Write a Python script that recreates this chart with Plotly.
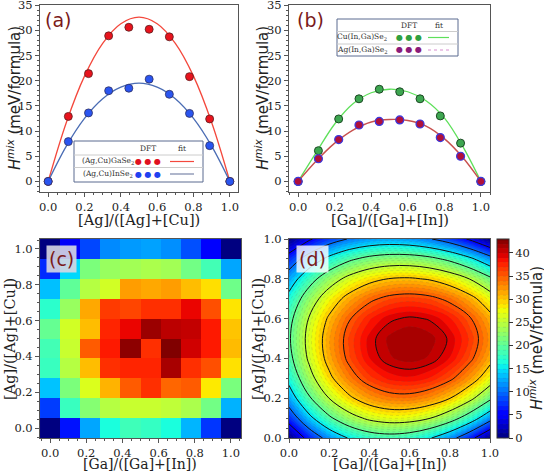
import plotly.graph_objects as go

# ---------------- data ----------------
comp9 = [0.0, 0.111, 0.222, 0.333, 0.444, 0.556, 0.667, 0.778, 0.889, 1.0]
fit_x = [0.0, 0.1, 0.2, 0.3, 0.4, 0.5, 0.6, 0.7, 0.8, 0.9, 1.0]

# (a) [Ag]/([Ag]+[Cu])
agcu_gase2_dft = [0, 12.9, 21.4, 28.9, 30.6, 30.2, 28.7, 20.8, 12.4, 0]
agcu_inse2_dft = [0, 7.9, 13.6, 18.0, 18.5, 20.3, 17.3, 13.5, 7.1, 0]
agcu_gase2_fit = [0, 11.7, 20.9, 27.4, 31.3, 32.6, 31.3, 27.4, 20.9, 11.7, 0]
agcu_inse2_fit = [0, 7.0, 12.5, 16.4, 18.7, 19.5, 18.7, 16.4, 12.5, 7.0, 0]

# (b) [Ga]/([Ga]+[In])
cu_inga_dft = [0, 6.1, 12.4, 16.4, 18.3, 17.8, 16.4, 13.0, 7.6, 0]
ag_inga_dft = [0, 4.5, 8.3, 11.2, 11.9, 12.2, 11.4, 8.7, 5.0, 0]
cu_inga_fit = [0, 5.8, 11.4, 15.4, 17.6, 18.3, 17.8, 16.0, 12.6, 7.0, 0]
ag_inga_fit = [0, 4.1, 7.6, 10.2, 11.8, 12.3, 12.1, 11.0, 8.5, 4.8, 0]

# (c) DFT mixing enthalpy map, rows = [Ag]/([Ag]+[Cu]) ascending, cols = [Ga]/([Ga]+[In]) ascending
dft_map = [
    [0, 6.1, 12.4, 16.4, 18.3, 17.8, 16.4, 13.0, 7.6, 0],
    [7.9, 18.0, 22.0, 24.5, 25.5, 25.5, 25.0, 24.0, 21.0, 12.9],
    [13.6, 21.5, 26.5, 31.0, 35.0, 37.0, 34.5, 35.0, 28.5, 21.4],
    [18.0, 24.5, 30.5, 37.0, 37.5, 37.5, 41.5, 37.0, 35.5, 28.9],
    [18.5, 25.5, 35.0, 38.0, 42.5, 37.0, 43.0, 40.0, 38.0, 30.6],
    [20.3, 26.0, 30.5, 37.5, 39.0, 42.0, 40.8, 40.5, 38.0, 30.2],
    [17.3, 23.0, 31.5, 36.5, 36.0, 37.0, 37.0, 39.0, 35.5, 28.7],
    [13.5, 20.0, 24.5, 26.0, 32.0, 31.5, 32.0, 30.5, 29.0, 20.8],
    [7.1, 14.5, 21.5, 23.0, 23.5, 24.0, 23.5, 21.0, 18.5, 12.4],
    [0, 4.5, 8.3, 11.2, 11.9, 12.2, 11.4, 8.7, 5.0, 0],
]

# (d) fitted surface read on an 11x11 grid (rows = Ag fraction ascending)
fit_map = [
    [0, 6.57, 11.68, 15.33, 17.52, 18.25, 17.52, 15.33, 11.68, 6.57, 0],
    [7.02, 13.85, 19.26, 23.26, 25.85, 27.03, 26.79, 25.15, 22.09, 17.62, 11.74],
    [12.48, 19.46, 25.07, 29.32, 32.20, 33.72, 33.88, 32.67, 30.10, 26.16, 20.86],
    [16.38, 23.40, 29.11, 33.50, 36.57, 38.33, 38.77, 37.90, 35.71, 32.21, 27.38],
    [18.72, 25.68, 31.38, 35.81, 38.97, 40.86, 41.48, 40.84, 38.93, 35.74, 31.30],
    [19.50, 26.30, 31.88, 36.24, 39.38, 41.30, 42.00, 41.48, 39.74, 36.78, 32.60],
    [18.72, 25.25, 30.61, 34.80, 37.81, 39.66, 40.33, 39.83, 38.16, 35.31, 31.30],
    [16.38, 22.54, 27.57, 31.48, 34.27, 35.93, 36.47, 35.89, 34.18, 31.34, 27.38],
    [12.48, 18.16, 22.77, 26.29, 28.75, 30.12, 30.42, 29.65, 27.80, 24.87, 20.86],
    [7.02, 12.12, 16.19, 19.23, 21.24, 22.23, 22.19, 21.12, 19.02, 15.89, 11.74],
    [0, 4.41, 7.84, 10.29, 11.76, 12.25, 11.76, 10.29, 7.84, 4.41, 0],
]

frac_ticks = [0.0, 0.2, 0.4, 0.6, 0.8, 1.0]
h_ticks = [0, 5, 10, 15, 20, 25, 30, 35]
cb_ticks = [0, 5, 10, 15, 20, 25, 30, 35, 40]

# ---------------- style ----------------
W, H = 544, 472
SERIF = "DejaVu Serif"
SANS = "DejaVu Sans"
LABEL_RED = "#7a1a1a"
HMIX = "<i>H</i><sup><i>mix</i></sup> (meV/formula)"


def jet(t):
    def seg(pts):
        for (x0, y0), (x1, y1) in zip(pts[:-1], pts[1:]):
            if x0 <= t <= x1:
                return y0 + (y1 - y0) * (t - x0) / (x1 - x0) if x1 > x0 else y1
        return pts[-1][1]
    r = seg([(0, 0), (0.35, 0), (0.66, 1), (0.89, 1), (1, 0.5)])
    g = seg([(0, 0), (0.125, 0), (0.375, 1), (0.64, 1), (0.91, 0), (1, 0)])
    b = seg([(0, 0.5), (0.11, 1), (0.34, 1), (0.65, 0), (1, 0)])
    return "rgb(%d,%d,%d)" % (round(r * 255), round(g * 255), round(b * 255))


JET = [[i / 64, jet(i / 64)] for i in range(65)]


def px_x(p):
    return p / W


def px_y(p):
    return 1 - p / H


fig = go.Figure()

# (a)
fig.add_trace(go.Scatter(x=fit_x, y=agcu_gase2_fit, mode="lines", line=dict(color="#f4483c", width=1.3, shape="spline"),
                         xaxis="x", yaxis="y", showlegend=False))
fig.add_trace(go.Scatter(x=fit_x, y=agcu_inse2_fit, mode="lines", line=dict(color="#4a6cb4", width=1.3, shape="spline"),
                         xaxis="x", yaxis="y", showlegend=False))
fig.add_trace(go.Scatter(x=comp9, y=agcu_gase2_dft, mode="markers",
                         marker=dict(color="#e8131d", size=8, line=dict(color="#5a2020", width=0.8)),
                         xaxis="x", yaxis="y", showlegend=False))
fig.add_trace(go.Scatter(x=comp9, y=agcu_inse2_dft, mode="markers",
                         marker=dict(color="#2a55f0", size=8, line=dict(color="#303060", width=0.8)),
                         xaxis="x", yaxis="y", showlegend=False))

# (b)
fig.add_trace(go.Scatter(x=fit_x, y=cu_inga_fit, mode="lines", line=dict(color="#5ee05a", width=1.3, shape="spline"),
                         xaxis="x2", yaxis="y2", showlegend=False))
fig.add_trace(go.Scatter(x=fit_x, y=ag_inga_fit, mode="lines", line=dict(color="#c8504e", width=1.4, shape="spline"),
                         xaxis="x2", yaxis="y2", showlegend=False))
fig.add_trace(go.Scatter(x=comp9, y=cu_inga_dft, mode="markers",
                         marker=dict(color="#3da650", size=8, line=dict(color="#1d4a25", width=1)),
                         xaxis="x2", yaxis="y2", showlegend=False))
fig.add_trace(go.Scatter(x=comp9, y=ag_inga_dft, mode="markers",
                         marker=dict(color="#b0103a", size=8, line=dict(color="#3a3ae0", width=1.2)),
                         xaxis="x2", yaxis="y2", showlegend=False))

# (c)
fig.add_trace(go.Heatmap(x=comp9, y=comp9, z=dft_map, colorscale=JET, zmin=0, zmax=43, showscale=False,
                         xaxis="x3", yaxis="y3"))

# (d)
fig.add_trace(go.Contour(x=fit_x, y=fit_x, z=fit_map, colorscale=JET, zmin=0, zmax=43,
                         contours=dict(start=0, end=43, size=1, coloring="fill"),
                         line=dict(color="rgba(90,90,90,0.3)", width=0.5, dash="dot", smoothing=1.0),
                         xaxis="x4", yaxis="y4",
                         colorbar=dict(x=px_x(497), xanchor="left", y=px_y(438), yanchor="bottom",
                                       len=199 / H, lenmode="fraction", thickness=12, thicknessmode="pixels",
                                       outlinecolor="#333", outlinewidth=1, xpad=0, ypad=0,
                                       tickvals=cb_ticks, ticks="outside", ticklen=4, tickcolor="#333",
                                       tickfont=dict(family=SERIF, size=11.5, color="#222"))))
fig.add_trace(go.Contour(x=fit_x, y=fit_x, z=fit_map, showscale=False,
                         contours=dict(start=5, end=40, size=5, coloring="none"),
                         line=dict(color="#111", width=1.0, smoothing=1.0),
                         xaxis="x4", yaxis="y4"))

axis_common = dict(showline=True, mirror=True, linecolor="#555", linewidth=1, ticks="outside", ticklen=4,
                   tickcolor="#555", tickfont=dict(family=SERIF, size=11.5, color="#222"), showgrid=False,
                   zeroline=False, ticklabeloverflow="allow")
frac_axis = dict(axis_common, tickvals=frac_ticks, tickformat=".1f",
                 minor=dict(ticks="outside", ticklen=2, dtick=0.05, tickcolor="#555"))
h_axis = dict(axis_common, tickvals=h_ticks, range=[-2.1, 35.02],
              minor=dict(ticks="outside", ticklen=2, dtick=1, tickcolor="#555"))

dom_top = [px_y(192), px_y(5)]
dom_bot = [px_y(438), px_y(239)]

fig.update_layout(
    width=W, height=H, margin=dict(l=0, r=0, t=0, b=0, autoexpand=False),
    paper_bgcolor="white", plot_bgcolor="white", showlegend=False,
    xaxis=dict(frac_axis, domain=[px_x(40), px_x(238)], range=[-0.045, 1.045], anchor="y"),
    yaxis=dict(h_axis, domain=dom_top, anchor="x"),
    xaxis2=dict(frac_axis, domain=[px_x(289), px_x(490)], range=[-0.05, 1.05], anchor="y2"),
    yaxis2=dict(h_axis, domain=dom_top, anchor="x2"),
    xaxis3=dict(frac_axis, domain=[px_x(40), px_x(241)], range=[-0.0556, 1.0556], anchor="y3"),
    yaxis3=dict(frac_axis, domain=dom_bot, range=[-0.0556, 1.0556], anchor="x3"),
    xaxis4=dict(frac_axis, domain=[px_x(289), px_x(490)], range=[0, 1], anchor="y4"),
    yaxis4=dict(frac_axis, domain=dom_bot, range=[0, 1], anchor="x4"),
)


def note(x, y, text, size, color, family=SERIF, angle=0, bg=None, pad=1):
    fig.add_annotation(xref="paper", yref="paper", x=px_x(x), y=px_y(y), text=text, showarrow=False,
                       xanchor="center", yanchor="middle", textangle=angle, bgcolor=bg, borderpad=pad,
                       font=dict(family=family, size=size, color=color))


# axis titles
note(139, 220, "[Ag]/([Ag]+[Cu])", 14.5, "#222")
note(390, 220, "[Ga]/([Ga]+[In])", 14.5, "#222")
note(140, 464, "[Ga]/([Ga]+[In])", 14, "#222")
note(390, 464, "[Ga]/([Ga]+[In])", 14, "#222")
note(14, 98, HMIX, 15, "#222", SANS, -90)
note(262, 98, HMIX, 15, "#222", SANS, -90)
note(10, 339, "[Ag]/([Ag]+[Cu])", 14.5, "#222", SERIF, -90)
note(258, 339, "[Ag]/([Ag]+[Cu])", 14.5, "#222", SERIF, -90)
note(536, 338, HMIX, 15, "#222", SANS, -90)

# panel labels
for txt, cx, cy, bg in [("(a)", 58, 20, None), ("(b)", 310, 20, None),
                        ("(c)", 61, 259, "rgba(215,215,225,0.9)"), ("(d)", 312, 259, "rgba(255,255,255,0.8)")]:
    note(cx, cy, txt, 19, LABEL_RED, SANS, 0, bg, 2)


# custom table-like legends
def legend_box(x0, x1, y0, y1, sep1, sep2, dft_x, fit_x0, fit_x1, label_x, rows):
    fig.add_shape(type="rect", xref="paper", yref="paper", x0=px_x(x0), x1=px_x(x1), y0=px_y(y1), y1=px_y(y0),
                  line=dict(color="#5a6a90", width=1), fillcolor="white", layer="above")
    for s in (sep1, sep2):
        fig.add_shape(type="line", xref="paper", yref="paper", x0=px_x(x0), x1=px_x(x1), y0=px_y(s), y1=px_y(s),
                      line=dict(color="#cccccc", width=1), layer="above")
    hy = (y0 + sep1) / 2
    note(dft_x, hy, "DFT", 7.5, "#333")
    note((fit_x0 + fit_x1) / 2, hy, "fit", 7.5, "#333")
    for (label, ry, dot_color, line_color, dash) in rows:
        note(label_x, ry, label, 7.5, "#333")
        note(dft_x, ry, "● ● ●", 8, dot_color, SANS)
        fig.add_shape(type="line", xref="paper", yref="paper", x0=px_x(fit_x0), x1=px_x(fit_x1),
                      y0=px_y(ry), y1=px_y(ry), line=dict(color=line_color, width=1.2, dash=dash), layer="above")


legend_box(74, 203, 141, 182, 155, 167.5, 148, 170, 194, 108,
           [("(Ag,Cu)GaSe<sub>2</sub>", 161.5, "#e01020", "#f4483c", "solid"),
            ("(Ag,Cu)InSe<sub>2</sub>", 174, "#2040f0", "#7a86a8", "solid")])
legend_box(337, 458, 19, 56, 31.5, 44, 409, 428, 449, 362,
           [("Cu(In,Ga)Se<sub>2</sub>", 37.5, "#30a040", "#5ee05a", "solid"),
            ("Ag(In,Ga)Se<sub>2</sub>", 50, "#8a1a7a", "#d890d0", "dot")])

fig.write_html("out.html", config={"displayModeBar": False},
               post_script="document.body.style.margin='0';document.body.style.padding='0';"
                           "document.documentElement.style.overflow='hidden';")
